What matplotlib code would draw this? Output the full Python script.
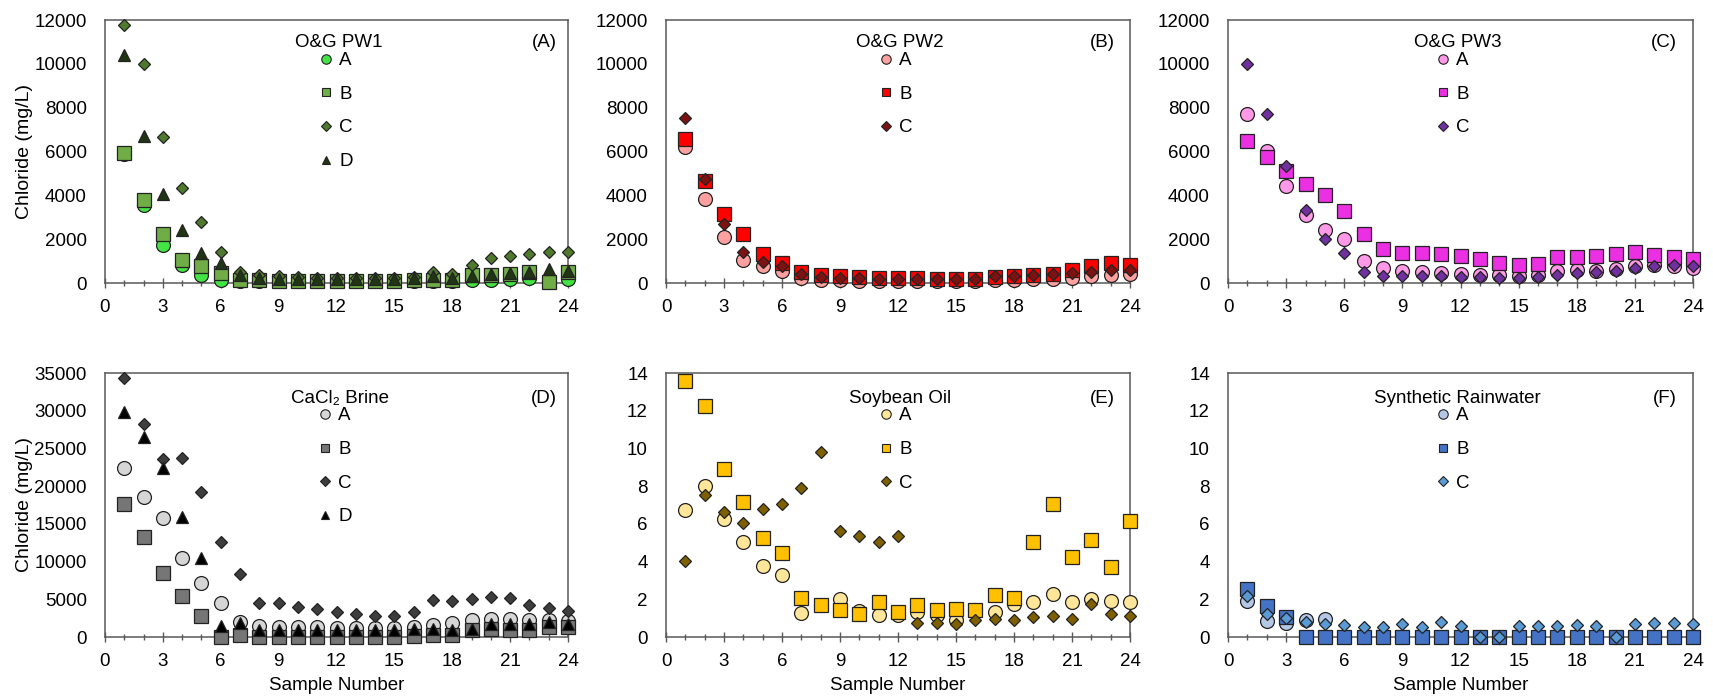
import matplotlib
matplotlib.use("Agg")
import matplotlib.pyplot as plt
from matplotlib.ticker import MultipleLocator

plt.rcParams['font.family'] = ['Liberation Sans', 'DejaVu Sans']
plt.rcParams['font.size'] = 13.5

samples = list(range(1, 25))
series_labels = ['A', 'B', 'C', 'D']

# O&G produced water 1 (mg/L)
pw1_a = [5900, 3570, 1750, 800, 380, 150, 70, 70, 70, 70, 70, 70, 70, 70, 70, 70, 80, 80, 120, 150, 170, 220, 50, 200]
pw1_b = [5930, 3800, 2230, 1060, 760, 460, 150, 120, 100, 100, 100, 100, 100, 100, 100, 120, 150, 150, 350, 380, 420, 480, 60, 520]
pw1_c = [11780, 10000, 6640, 4330, 2770, 1410, 480, 350, 300, 260, 250, 250, 250, 230, 230, 280, 480, 400, 800, 1120, 1220, 1320, 1410, 1400]
pw1_d = [10400, 6690, 4060, 2430, 1370, 910, 380, 230, 200, 200, 200, 200, 200, 200, 200, 220, 300, 250, 330, 400, 470, 520, 650, 560]

# O&G produced water 2 (mg/L)
pw2_a = [6200, 3830, 2110, 1060, 790, 530, 230, 150, 120, 110, 100, 100, 100, 100, 100, 100, 150, 150, 180, 200, 230, 300, 380, 410]
pw2_b = [6560, 4670, 3160, 2250, 1320, 910, 500, 380, 300, 270, 230, 220, 210, 200, 190, 200, 270, 300, 380, 430, 580, 760, 910, 840]
pw2_c = [7550, 4760, 2700, 1410, 960, 760, 410, 270, 230, 210, 180, 180, 180, 170, 170, 180, 330, 330, 380, 430, 450, 500, 580, 580]

# O&G produced water 3 (mg/L)
pw3_a = [7730, 6030, 4410, 3120, 2430, 2000, 1020, 670, 530, 490, 450, 400, 380, 350, 340, 360, 530, 580, 530, 640, 760, 800, 760, 680]
pw3_b = [6490, 5730, 5090, 4530, 4000, 3300, 2230, 1550, 1370, 1370, 1320, 1250, 1090, 910, 840, 870, 1190, 1190, 1220, 1340, 1410, 1290, 1190, 1090]
pw3_c = [10000, 7700, 5360, 3310, 2000, 1370, 490, 340, 340, 340, 300, 270, 270, 240, 230, 270, 380, 450, 500, 560, 680, 760, 840, 790]

# CaCl2 brine (mg/L)
brine_a = [22460, 18610, 15730, 10410, 7220, 4520, 2000, 1420, 1330, 1330, 1300, 1250, 1250, 1200, 1200, 1330, 1550, 1860, 2220, 2440, 2350, 2220, 2220, 2080]
brine_b = [17590, 13290, 8550, 5400, 2790, 0, 220, 50, 50, 50, 50, 50, 50, 50, 50, 100, 200, 250, 890, 1100, 970, 890, 1330, 1330]
brine_c = [34340, 28220, 23570, 23700, 19270, 12540, 8330, 4520, 4560, 3990, 3680, 3320, 3100, 2750, 2750, 3320, 4900, 4800, 5100, 5320, 5230, 4210, 3850, 3460]
brine_d = [29770, 26580, 22460, 15950, 10410, 1420, 1860, 970, 890, 890, 890, 890, 890, 890, 890, 1000, 1000, 890, 1100, 1770, 1770, 1680, 2000, 1770]

# Soybean oil (mg/L)
soy_a = [6.73, 8.01, 6.24, 5.05, 3.76, 3.31, 1.29, 1.70, 2.02, 1.38, 1.19, 1.15, 1.33, 1.19, 0.92, 1.45, 1.33, 1.77, 1.83, 2.27, 1.86, 2.04, 1.91, 1.86]
soy_b = [13.56, 12.26, 8.91, 7.18, 5.23, 4.47, 2.09, 1.68, 1.45, 1.24, 1.83, 1.33, 1.68, 1.42, 1.51, 1.45, 2.22, 2.07, 5.02, 7.05, 4.25, 5.14, 3.69, 6.15]
soy_c = [4.02, 7.51, 6.61, 6.03, 6.79, 7.05, 7.89, 9.82, 5.64, 5.37, 5.05, 5.37, 0.76, 0.74, 0.67, 0.89, 0.97, 0.89, 1.06, 1.12, 0.94, 1.74, 1.24, 1.10]

# Synthetic rainwater (mg/L)
rain_a = [1.91, 0.83, 0.74, 0.89, 0.96, 0, 0, 0, 0, 0, 0, 0, 0, 0, 0, 0, 0, 0, 0, 0, 0, 0, 0, 0]
rain_b = [2.52, 1.65, 1.06, 0, 0, 0, 0, 0, 0, 0, 0, 0, 0, 0, 0, 0, 0, 0, 0, 0, 0, 0, 0, 0]
rain_c = [2.18, 1.24, 1.01, 0.80, 0.71, 0.62, 0.53, 0.53, 0.71, 0.53, 0.77, 0.57, 0, 0, 0.57, 0.57, 0.57, 0.62, 0.57, 0, 0.67, 0.74, 0.74, 0.71]

panel_titles = ['O&G PW1', 'O&G PW2', 'O&G PW3', 'CaCl\u2082 Brine', 'Soybean Oil', 'Synthetic Rainwater']
panel_tags = ['(A)', '(B)', '(C)', '(D)', '(E)', '(F)']
y_limits = [12000, 12000, 12000, 35000, 14, 14]
y_steps = [2000, 2000, 2000, 5000, 2, 2]

panel_data = [
    [pw1_a, pw1_b, pw1_c, pw1_d],
    [pw2_a, pw2_b, pw2_c],
    [pw3_a, pw3_b, pw3_c],
    [brine_a, brine_b, brine_c, brine_d],
    [soy_a, soy_b, soy_c],
    [rain_a, rain_b, rain_c],
]
panel_colors = [
    ['#44e344', '#70ad47', '#4f7a2e', '#1f3513'],
    ['#ffa0a0', '#ff0000', '#7d1212'],
    ['#ff99e8', '#ea30e2', '#7030a0'],
    ['#d6d6d6', '#767676', '#3d3d3d', '#000000'],
    ['#ffe699', '#ffc000', '#7f6000'],
    ['#b4c7e7', '#4472c4', '#5b9bd5'],
]
shapes = ['o', 's', 'D', '^']
shape_sizes = {'o': 10, 's': 9.8, 'D': 6.6, '^': 8.8}
legend_sizes = {'o': 6.8, 's': 6.3, 'D': 5.2, '^': 6.2}

# axes rectangles in figure pixels: left, right, top, bottom
W, H = 1713, 700
boxes = [
    (105, 568, 20, 283), (666, 1130, 20, 283), (1228, 1693, 20, 283),
    (105, 568, 373, 637), (666, 1130, 373, 637), (1228, 1693, 373, 637),
]
title_x = [0.505, 0.504, 0.494, 0.508, 0.504, 0.493]
legend_x = [0.486, 0.483, 0.471, 0.484, 0.483, 0.471]
tag_x = [0.976, 0.968, 0.966, 0.976, 0.968, 0.966]

edge = '#222222'
spine_color = '#595959'

fig = plt.figure(figsize=(W / 100, H / 100), dpi=100)

for i in range(6):
    l, r, t, b = boxes[i]
    ax = fig.add_axes([l / W, 1 - b / H, (r - l) / W, (b - t) / H])
    handles = []
    for j, vals in enumerate(panel_data[i]):
        m = shapes[j]
        h, = ax.plot(samples, vals, linestyle='none', marker=m,
                     markersize=shape_sizes[m], markerfacecolor=panel_colors[i][j],
                     markeredgecolor=edge, markeredgewidth=0.9, clip_on=False,
                     label=series_labels[j], zorder=3 + j)
        handles.append(h)

    ax.set_xlim(0, 24)
    ax.set_ylim(0, y_limits[i])
    ax.xaxis.set_major_locator(MultipleLocator(3))
    ax.xaxis.set_minor_locator(MultipleLocator(1))
    ax.yaxis.set_major_locator(MultipleLocator(y_steps[i]))
    ax.tick_params(axis='x', which='major', direction='inout', length=7, width=1,
                   color=spine_color, pad=8, labelsize=13.5)
    ax.tick_params(axis='x', which='minor', direction='inout', length=5, width=1,
                   color=spine_color)
    ax.tick_params(axis='y', which='major', length=0, pad=13, labelsize=13.5)
    for s in ax.spines.values():
        s.set_color(spine_color)
        s.set_linewidth(1.1)

    ty = 0.913 if i < 3 else 0.905
    ax.text(title_x[i], ty, panel_titles[i], transform=ax.transAxes,
            ha='center', va='center', fontsize=13.5)
    ax.text(tag_x[i], ty, panel_tags[i], transform=ax.transAxes,
            ha='right', va='center', fontsize=13.5)

    leg = ax.legend(handles=handles, loc='upper left',
                    bbox_to_anchor=(legend_x[i] - 0.027, ty - 0.035),
                    frameon=False, handlelength=0.9,
                    handletextpad=0.25, labelspacing=0.88, borderpad=0,
                    borderaxespad=0, fontsize=13.5)
    for j, h in enumerate(leg.legend_handles):
        h.set_markersize(legend_sizes[shapes[j]])
        h.set_markeredgewidth(0.8)

    if i % 3 == 0:
        ax.set_ylabel('Chloride (mg/L)', fontsize=14, labelpad=1)
    if i >= 3:
        ax.set_xlabel('Sample Number', fontsize=13.5, labelpad=5)

fig.savefig('out.png', dpi=100)
